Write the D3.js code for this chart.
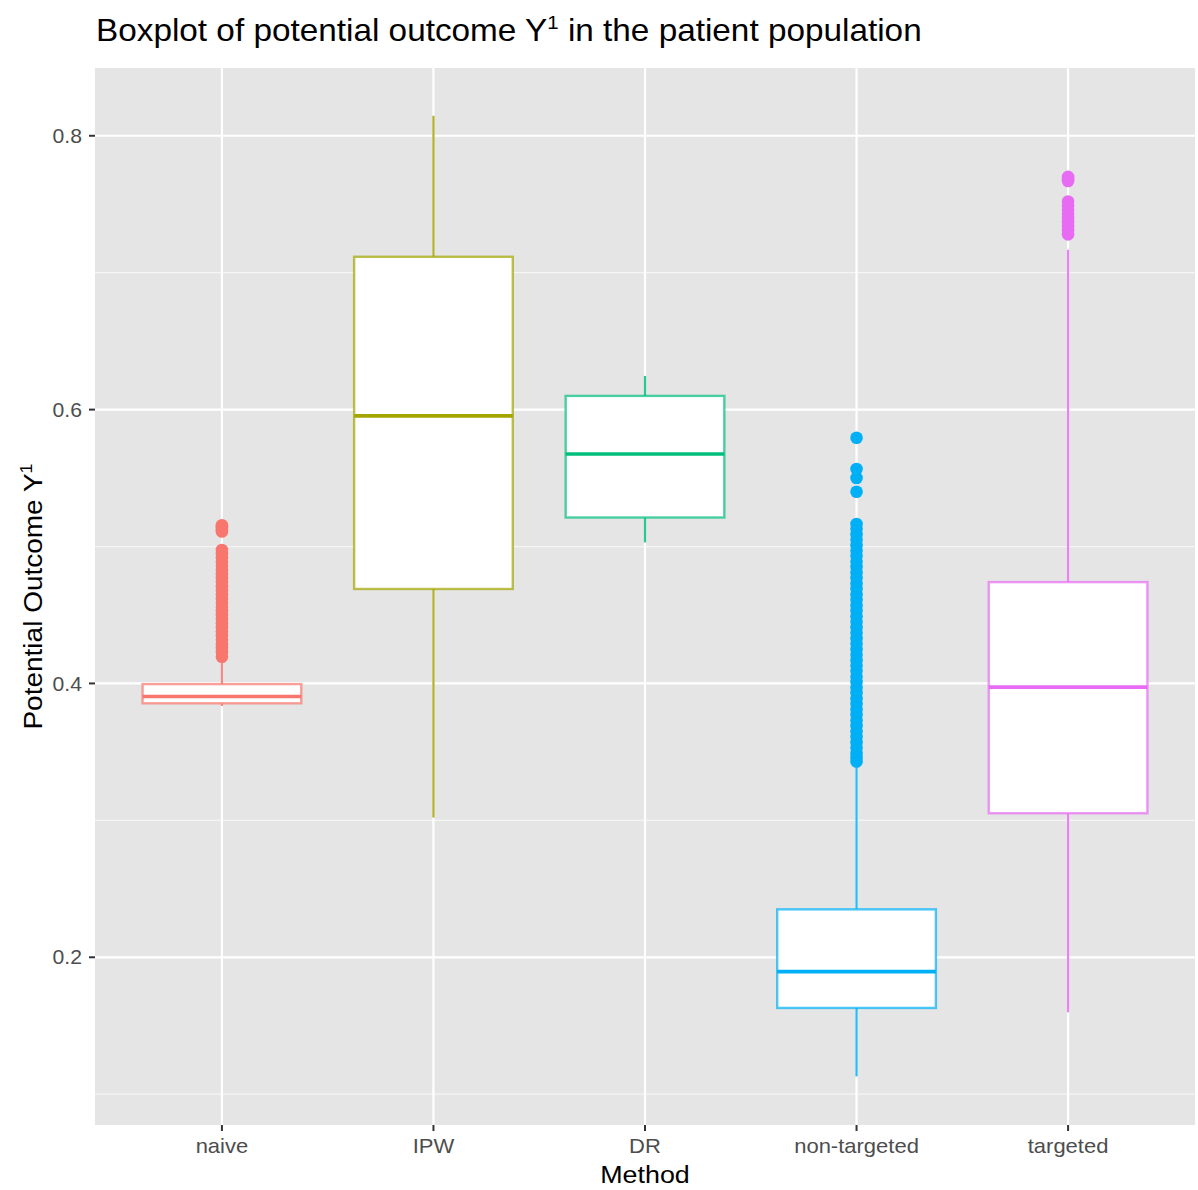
<!DOCTYPE html>
<html>
<head>
<meta charset="utf-8">
<script src="https://cdn.jsdelivr.net/npm/d3@7"></script>
<style>
  html, body { margin: 0; padding: 0; background: #ffffff; }
  svg { display: block; font-family: "Liberation Sans", Arial, Helvetica, sans-serif; }
</style>
</head>
<body>
<svg id="chart" width="1198" height="1190"></svg>
<script>
// ---- data ----
const categories = ["naive", "IPW", "DR", "non-targeted", "targeted"];
const colors = ["#F8766D", "#A3A500", "#00BF7D", "#00B0F6", "#E76BF3"];
const whiskerLow  = [0.3835, 0.302, 0.503, 0.113, 0.1598];
const q1          = [0.3855, 0.469, 0.5212, 0.163, 0.3052];
const median      = [0.3905, 0.5954, 0.5676, 0.1895, 0.3973];
const q3          = [0.3995, 0.7116, 0.610, 0.235, 0.474];
const whiskerHigh = [0.416, 0.8146, 0.6246, 0.342, 0.7167];
const outliersNaive = [0.5155, 0.5145, 0.5135, 0.512, 0.511, 0.4975, 0.495, 0.492, 0.489, 0.486, 0.483, 0.48, 0.477,
  0.474, 0.471, 0.468, 0.465, 0.462, 0.459, 0.456, 0.453, 0.45, 0.447, 0.444, 0.441, 0.438, 0.435, 0.432,
  0.429, 0.426, 0.423, 0.4195];
const outliersIPW = [];
const outliersDR = [];
const outliersNonTargeted = [0.5795, 0.5566, 0.550, 0.540, 0.5164, 0.513, 0.509, 0.505, 0.501, 0.497, 0.493, 0.489,
  0.485, 0.481, 0.477, 0.473, 0.469, 0.465, 0.461, 0.457, 0.453, 0.449, 0.445, 0.441, 0.437, 0.433, 0.429,
  0.425, 0.421, 0.417, 0.413, 0.409, 0.405, 0.401, 0.397, 0.393, 0.389, 0.385, 0.381, 0.377, 0.373, 0.369,
  0.365, 0.361, 0.357, 0.353, 0.349, 0.346, 0.343];
const outliersTargeted = [0.770, 0.7685, 0.767, 0.752, 0.749, 0.746, 0.743, 0.740, 0.737, 0.734, 0.731, 0.728];
const outliers = [outliersNaive, outliersIPW, outliersDR, outliersNonTargeted, outliersTargeted];
const yMajorTicks = [0.2, 0.4, 0.6, 0.8];
const yMinorTicks = [0.1, 0.3, 0.5, 0.7];
const titleText = "Boxplot of potential outcome Y";
const titleTail = " in the patient population";
const yTitleText = "Potential Outcome Y";
const xTitleText = "Method";

// ---- layout ----
const panel = { left: 95, right: 1195, top: 68, bottom: 1125 };
const svg = d3.select("#chart");

const x = d3.scalePoint().domain(categories).range([panel.left, panel.right]).padding(0.6);
const y = d3.scaleLinear().domain([0.0775, 0.8495]).range([panel.bottom, panel.top]);
const boxW = x.step() * 0.75;

// text helper: positioned group with a slight horizontal stretch (reference glyphs are wide)
function label(parent, px, py, opts) {
  const gg = parent.append("g")
    .attr("transform", `translate(${px},${py}) rotate(${opts.rotate || 0}) scale(${opts.sx || 1},1)`);
  return gg.append("text")
    .attr("text-anchor", opts.anchor || "start")
    .attr("dy", opts.dy || 0)
    .attr("font-size", opts.size)
    .attr("fill", opts.fill || "#000");
}

// panel background
svg.append("rect")
  .attr("x", panel.left).attr("y", panel.top)
  .attr("width", panel.right - panel.left).attr("height", panel.bottom - panel.top)
  .attr("fill", "#E5E5E5");

// grid lines
const grid = svg.append("g");
grid.selectAll("line.minor").data(yMinorTicks).join("line")
  .attr("x1", panel.left).attr("x2", panel.right)
  .attr("y1", d => y(d)).attr("y2", d => y(d))
  .attr("stroke", "#F5F5F5").attr("stroke-width", 1.2);
grid.selectAll("line.majorY").data(yMajorTicks).join("line")
  .attr("x1", panel.left).attr("x2", panel.right)
  .attr("y1", d => y(d)).attr("y2", d => y(d))
  .attr("stroke", "#FFFFFF").attr("stroke-width", 2.2);
grid.selectAll("line.majorX").data(categories).join("line")
  .attr("x1", d => x(d)).attr("x2", d => x(d))
  .attr("y1", panel.top).attr("y2", panel.bottom)
  .attr("stroke", "#FFFFFF").attr("stroke-width", 2.2);

// boxes
const data = categories.map((c, i) => ({
  c, color: colors[i], lo: whiskerLow[i], q1: q1[i], med: median[i], q3: q3[i], hi: whiskerHigh[i], out: outliers[i]
}));

const g = svg.append("g");
data.forEach(d => {
  const cx = x(d.c);
  const grp = g.append("g");
  grp.append("line").attr("x1", cx).attr("x2", cx).attr("y1", y(d.q3)).attr("y2", y(d.hi))
    .attr("stroke", d.color).attr("stroke-width", 2.2).attr("stroke-opacity", 0.85);
  grp.append("line").attr("x1", cx).attr("x2", cx).attr("y1", y(d.q1)).attr("y2", y(d.lo))
    .attr("stroke", d.color).attr("stroke-width", 2.2).attr("stroke-opacity", 0.85);
  grp.append("rect").attr("x", cx - boxW / 2).attr("y", y(d.q3))
    .attr("width", boxW).attr("height", y(d.q1) - y(d.q3))
    .attr("fill", "#FFFFFF").attr("stroke", d.color).attr("stroke-width", 2.4).attr("stroke-opacity", 0.7);
  grp.append("line").attr("x1", cx - boxW / 2).attr("x2", cx + boxW / 2)
    .attr("y1", y(d.med)).attr("y2", y(d.med))
    .attr("stroke", d.color).attr("stroke-width", 3.6);
  grp.selectAll("circle").data(d.out).join("circle")
    .attr("cx", cx).attr("cy", v => y(v)).attr("r", 6.3)
    .attr("fill", d.color);
});

// y axis ticks + labels
const yAxis = svg.append("g");
yAxis.selectAll("line").data(yMajorTicks).join("line")
  .attr("x1", panel.left - 6).attr("x2", panel.left)
  .attr("y1", d => y(d)).attr("y2", d => y(d))
  .attr("stroke", "#333333").attr("stroke-width", 2);
yMajorTicks.forEach(t => {
  label(yAxis, panel.left - 13, y(t), { size: 20, sx: 1.06, anchor: "end", dy: "0.36em", fill: "#4D4D4D" })
    .text(d3.format(".1f")(t));
});

// x axis ticks + labels
const xAxis = svg.append("g");
xAxis.selectAll("line").data(categories).join("line")
  .attr("x1", d => x(d)).attr("x2", d => x(d))
  .attr("y1", panel.bottom).attr("y2", panel.bottom + 6)
  .attr("stroke", "#333333").attr("stroke-width", 2);
categories.forEach(c => {
  label(xAxis, x(c), 1153, { size: 20, sx: 1.1, anchor: "middle", fill: "#4D4D4D" }).text(c);
});

// axis titles
label(svg, (panel.left + panel.right) / 2, 1183, { size: 24, sx: 1.12, anchor: "middle" }).text(xTitleText);

const yt = label(svg, 42, (panel.top + panel.bottom) / 2, { size: 25, sx: 1.12, anchor: "middle", rotate: -90 });
yt.append("tspan").text(yTitleText);
yt.append("tspan").attr("font-size", 16).attr("dy", -10).text("1");

// title
const tt = label(svg, 96, 41, { size: 31, sx: 1.075 });
tt.append("tspan").text(titleText);
tt.append("tspan").attr("font-size", 19).attr("dy", -12).text("1");
tt.append("tspan").attr("dy", 12).text(titleTail);
</script>
</body>
</html>
